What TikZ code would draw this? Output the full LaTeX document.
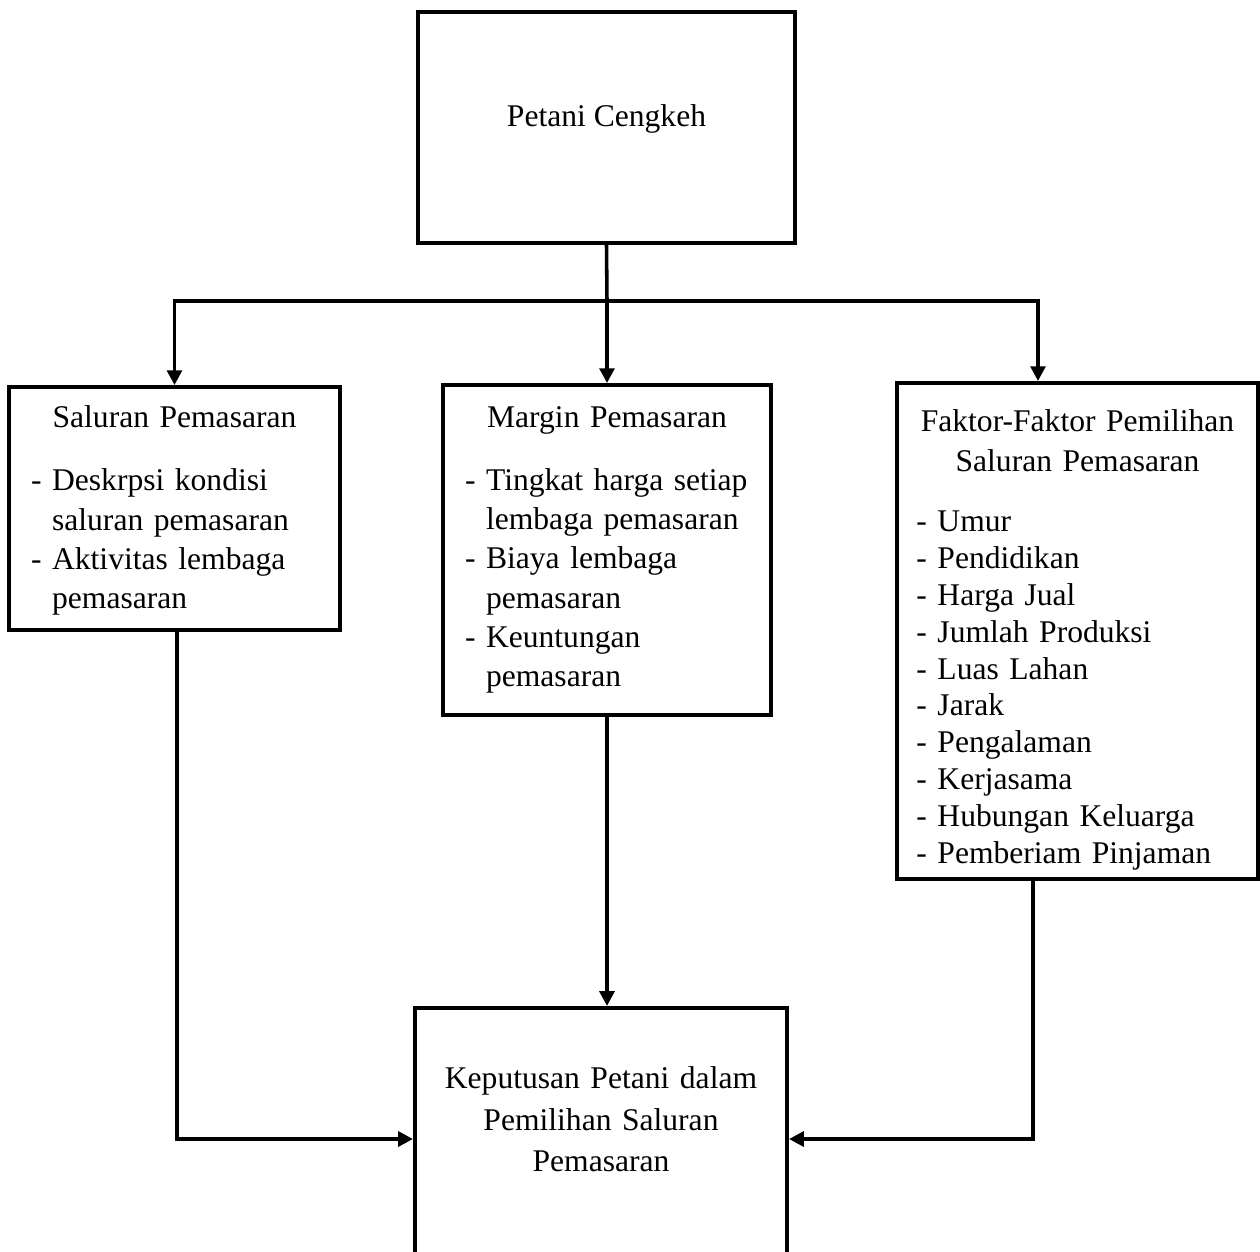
\documentclass[tikz,border=0pt]{standalone}
\usepackage{fontspec}
\setmainfont{Liberation Serif}
\usepackage{tikz}
\usetikzlibrary{arrows.meta, calc}

\begin{document}
\begin{tikzpicture}[x=0.38pt, y=-0.38pt,
      box/.style={draw, rectangle, line width=1.5pt, inner sep=0pt,
        font=\fontsize{12pt}{14.9pt}\selectfont},
      link/.style={line width=1.35pt},
      arr/.style={link, -{Triangle[width=5.6pt, length=5.6pt]}}]
      \useasboundingbox (0,0) rectangle (1260,1252);
      \node[box, minimum width=143.3pt, minimum height=87.8pt,
        text height=8.2pt, text depth=8.6pt] (petani) at (606.5,127.5) {Petani Cengkeh};
      \node[box, minimum width=125.8pt, minimum height=92.3pt, text width=109pt] (saluran) at (174.5,508.5)
        {\centering Saluran Pemasaran\par\vspace{9pt}\raggedright
        - Deskrpsi kondisi\\ \hphantom{- }saluran pemasaran\\
        - Aktivitas lembaga\\ \hphantom{- }pemasaran\par
        \vspace{-1.6pt}\nointerlineskip\null};
      \node[box, minimum width=124.6pt, minimum height=125.4pt, text width=107.9pt] (margin) at (607,550)
        {\centering Margin Pemasaran\par\vspace{9pt}\raggedright
        - Tingkat harga setiap\\ \hphantom{- }lembaga pemasaran\\
        - Biaya lembaga\\ \hphantom{- }pemasaran\\
        - Keuntungan\\ \hphantom{- }pemasaran};
      \node[box, minimum width=137.2pt, minimum height=188.5pt, text width=122.4pt,
        font=\fontsize{12pt}{14pt}\selectfont] (faktor) at (1077.5,631)
        {\centering Faktor-Faktor Pemilihan\\[1pt] Saluran Pemasaran\par\vspace{9pt}\raggedright
        - Umur\\ - Pendidikan\\ - Harga Jual\\ - Jumlah Produksi\\ - Luas Lahan\\
        - Jarak\\ - Pengalaman\\ - Kerjasama\\ - Hubungan Keluarga\\ - Pemberiam Pinjaman\par
        \vspace{-6.8pt}\nointerlineskip\null};
      \node[box, minimum width=141.4pt, minimum height=99.6pt, text width=130pt,
        font=\fontsize{12pt}{15.7pt}\selectfont] (keputusan) at (601,1139)
        {\centering Keputusan Petani dalam\\ Pemilihan Saluran\\ Pemasaran\par
        \vspace{15pt}\nointerlineskip\null};
      \coordinate (split) at (607,301);
      \draw[link] (petani.south) -- (split);
      \draw[arr] (split) -| (saluran.north);
      \draw[arr] (split) -- (margin.north);
      \draw[arr] (split) -| ($(faktor.north)+(-39.5,0)$);
      \draw[arr] (margin.south) -- (margin.south |- keputusan.north);
      \draw[arr] ($(saluran.south)+(2.5,0)$) |- (keputusan.west);
      \draw[arr] ($(faktor.south)+(-44.5,0)$) |- (keputusan.east);
    \end{tikzpicture}
\end{document}
